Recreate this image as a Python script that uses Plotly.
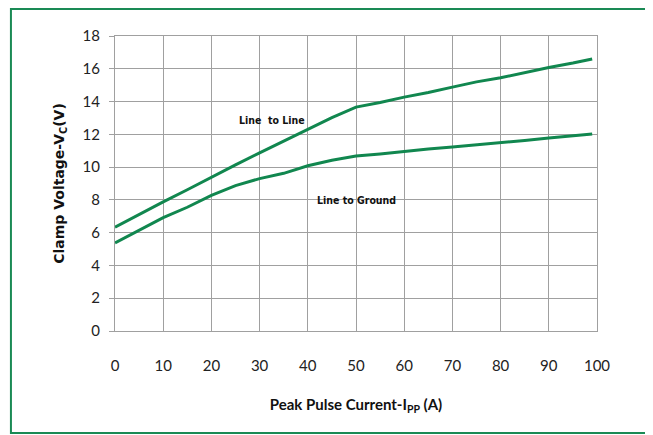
import plotly.graph_objects as go

current = [0, 5, 10, 15, 20, 25, 30, 35, 40, 45, 50, 55, 60, 65, 70, 75, 80, 85, 90, 95, 99]
line_to_line = [6.33, 7.12, 7.88, 8.62, 9.4, 10.14, 10.87, 11.6, 12.3, 13.02, 13.66, 13.94, 14.27, 14.55, 14.88, 15.2, 15.45, 15.77, 16.08, 16.35, 16.6]
line_to_ground = [5.38, 6.15, 6.92, 7.55, 8.28, 8.87, 9.3, 9.62, 10.08, 10.42, 10.68, 10.8, 10.97, 11.1, 11.22, 11.37, 11.5, 11.63, 11.77, 11.9, 12.02]

x_ticks = list(range(0, 101, 10))
y_ticks = list(range(0, 19, 2))

green = "#11874f"
grid = "#a0a0a0"

fig = go.Figure()
fig.add_trace(go.Scatter(x=current, y=line_to_line, mode="lines", line=dict(color=green, width=3), name="Line to Line"))
fig.add_trace(go.Scatter(x=current, y=line_to_ground, mode="lines", line=dict(color=green, width=3), name="Line to Ground"))

narrow = "Liberation Sans Narrow, DejaVu Sans Condensed, Arial Narrow, sans-serif"
fig.add_annotation(x=32.5, y=12.87, text="<b>Line  to Line</b>", showarrow=False, font=dict(family=narrow, size=10.5, color="#111"))
fig.add_annotation(x=50.07, y=7.99, text="<b>Line to Ground</b>", showarrow=False, font=dict(family=narrow, size=10.5, color="#111"))

fig.add_shape(type="rect", xref="paper", yref="paper", x0=-0.2159, x1=1.25, y0=-0.3458, y1=1.0915,
              line=dict(color="#1a8a55", width=2), fillcolor="rgba(0,0,0,0)", layer="below")

fig.update_layout(
    width=645, height=427,
    margin=dict(l=107, r=56, t=28, b=104),
    paper_bgcolor="white", plot_bgcolor="white",
    showlegend=False,
    font=dict(family="Lato, Open Sans, sans-serif", size=15, color="#222"),
)
fig.update_xaxes(
    range=[0, 100], tickvals=x_ticks, ticktext=[str(v) for v in x_ticks],
    showgrid=True, gridcolor=grid, gridwidth=1,
    showline=True, linecolor=grid, linewidth=1, mirror=True,
    ticks="", ticklabelstandoff=21, zeroline=False,
    title=dict(text="<b>Peak Pulse Current-I<sub>PP</sub> (A)</b>", font=dict(family="Lato, sans-serif", size=15, color="#111"), standoff=26),
    tickfont=dict(family="Lato, sans-serif", size=15, color="#222"),
)
fig.update_yaxes(
    range=[0, 18], tickvals=y_ticks, ticktext=[str(v) for v in y_ticks],
    showgrid=True, gridcolor=grid, gridwidth=1,
    showline=True, linecolor=grid, linewidth=1, mirror=True,
    ticks="outside", ticklen=5, tickcolor=grid, ticklabelstandoff=6, zeroline=False,
    title=dict(text="<b>Clamp Voltage-V<sub>C</sub>(V)</b>", font=dict(family="DejaVu Sans, Verdana, sans-serif", size=14, color="#111"), standoff=14),
    tickfont=dict(family="Lato, sans-serif", size=15, color="#222"),
)

fig.write_html("out.html")
